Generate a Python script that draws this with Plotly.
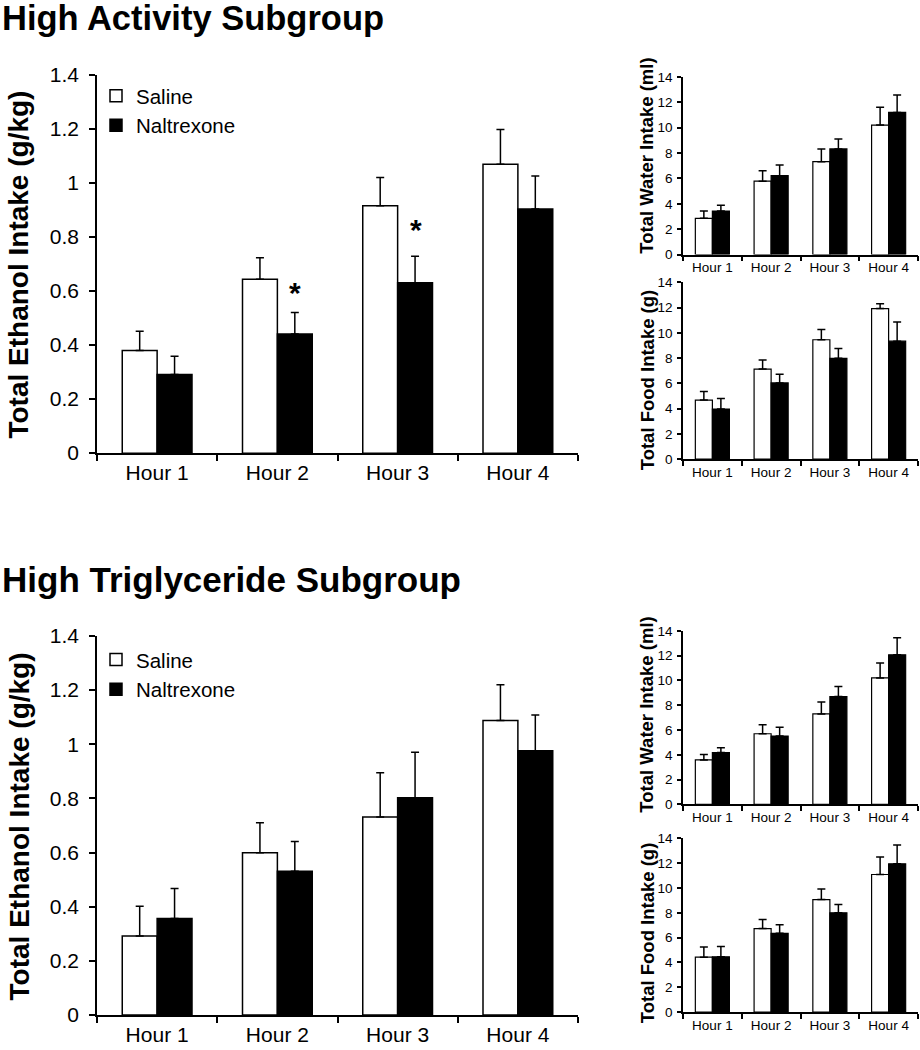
import plotly.graph_objects as go

hours = ["Hour 1", "Hour 2", "Hour 3", "Hour 4"]

# High Activity subgroup - ethanol (g/kg)
ha_eth_sal = [0.38, 0.644, 0.916, 1.069]
ha_eth_sal_err = [0.071, 0.079, 0.104, 0.129]
ha_eth_nal = [0.291, 0.441, 0.631, 0.904]
ha_eth_nal_err = [0.068, 0.080, 0.098, 0.122]
ha_star_hours = ["Hour 2", "Hour 3"]
ha_star_y = [0.595, 0.828]

# High Activity - water (ml) and food (g)
ha_wat_sal = [2.85, 5.78, 7.32, 10.2]
ha_wat_sal_err = [0.58, 0.82, 1.0, 1.4]
ha_wat_nal = [3.43, 6.21, 8.32, 11.2]
ha_wat_nal_err = [0.45, 0.84, 0.79, 1.37]
ha_food_sal = [4.68, 7.14, 9.46, 11.93]
ha_food_sal_err = [0.68, 0.71, 0.81, 0.39]
ha_food_nal = [3.97, 6.04, 7.99, 9.35]
ha_food_nal_err = [0.84, 0.68, 0.78, 1.52]

# High Triglyceride subgroup - ethanol (g/kg)
ht_eth_sal = [0.292, 0.599, 0.731, 1.087]
ht_eth_sal_err = [0.110, 0.111, 0.163, 0.132]
ht_eth_nal = [0.356, 0.531, 0.802, 0.976]
ht_eth_nal_err = [0.111, 0.110, 0.168, 0.132]

# High Triglyceride - water and food
ht_wat_sal = [3.59, 5.7, 7.3, 10.2]
ht_wat_sal_err = [0.43, 0.72, 0.96, 1.2]
ht_wat_nal = [4.18, 5.52, 8.7, 12.07]
ht_wat_nal_err = [0.4, 0.7, 0.8, 1.37]
ht_food_sal = [4.42, 6.73, 9.07, 11.09]
ht_food_sal_err = [0.83, 0.73, 0.84, 1.4]
ht_food_nal = [4.45, 6.35, 8.0, 11.95]
ht_food_nal_err = [0.83, 0.68, 0.67, 1.51]

FONT = "Liberation Sans, Arial, sans-serif"
W, H = 920, 1050


def px_x(p):
    return p / W


def px_y(p):
    p = (p - 12) / 0.98
    return 1 - p / H


fig = go.Figure()


def add_pair(sal, sal_err, nal, nal_err, xa, ya, legend=None, lw=1.5):
    show = legend is not None
    kw = dict(legend=legend) if show else {}
    fig.add_trace(go.Bar(
        x=hours, y=sal, name="Saline", xaxis=xa, yaxis=ya,
        marker=dict(color="white", line=dict(color="black", width=lw)),
        error_y=dict(type="data", array=sal_err, arrayminus=[0] * 4, symmetric=False,
                     color="black", thickness=1.5, width=4),
        showlegend=show, **kw))
    fig.add_trace(go.Bar(
        x=hours, y=nal, name="Naltrexone", xaxis=xa, yaxis=ya,
        marker=dict(color="black", line=dict(color="black", width=lw)),
        error_y=dict(type="data", array=nal_err, arrayminus=[0] * 4, symmetric=False,
                     color="black", thickness=1.5, width=4),
        showlegend=show, **kw))


add_pair(ha_eth_sal, ha_eth_sal_err, ha_eth_nal, ha_eth_nal_err, "x", "y", legend="legend")
add_pair(ht_eth_sal, ht_eth_sal_err, ht_eth_nal, ht_eth_nal_err, "x2", "y2", legend="legend2")
add_pair(ha_wat_sal, ha_wat_sal_err, ha_wat_nal, ha_wat_nal_err, "x3", "y3", lw=1.2)
add_pair(ha_food_sal, ha_food_sal_err, ha_food_nal, ha_food_nal_err, "x4", "y4", lw=1.2)
add_pair(ht_wat_sal, ht_wat_sal_err, ht_wat_nal, ht_wat_nal_err, "x5", "y5", lw=1.2)
add_pair(ht_food_sal, ht_food_sal_err, ht_food_nal, ht_food_nal_err, "x6", "y6", lw=1.2)

# panel geometry (pixels)
main_x = (97, 578)
small_x = (683, 918)
panels = {
    "": (main_x, (75, 454), 1.4, 0.2, 21, 21),
    "2": (main_x, (637, 1017), 1.4, 0.2, 21, 21),
    "3": (small_x, (77, 255), 14, 2, 13.5, 13.5),
    "4": (small_x, (283, 460), 14, 2, 13.5, 13.5),
    "5": (small_x, (632, 806), 14, 2, 13.5, 13.5),
    "6": (small_x, (840, 1014), 14, 2, 13.5, 13.5),
}

layout = dict(
    width=W, height=H, margin=dict(l=0, r=0, t=0, b=0),
    paper_bgcolor="white", plot_bgcolor="white",
    barmode="group", bargap=0.42, bargroupgap=0,
    font=dict(family=FONT, color="black"),
)
for k, (xp, yp, ymax, dt, tfs, xfs) in panels.items():
    ax_x = "xaxis" + k
    ax_y = "yaxis" + k
    main = k in ("", "2")
    layout[ax_x] = dict(
        domain=[px_x(xp[0]), px_x(xp[1])], anchor="y" + k, type="category",
        showline=True, linecolor="black", linewidth=1.5, ticks="outside",
        tickson="boundaries", ticklen=6 if main else 5, tickwidth=1.5,
        tickcolor="black", showgrid=False, zeroline=False,
        tickfont=dict(size=xfs, family=FONT, color="black"),
    )
    layout[ax_y] = dict(
        domain=[px_y(yp[1]), px_y(yp[0])], anchor="x" + k, range=[0, ymax],
        dtick=dt, tick0=0, showline=True, linecolor="black", linewidth=1.5,
        ticks="outside", ticklen=6 if main else 4, tickwidth=1.5,
        ticklabelstandoff=6 if main else 2,
        tickcolor="black", showgrid=False, zeroline=False,
        tickfont=dict(size=tfs, family=FONT, color="black"),
    )

layout["legend"] = dict(x=px_x(96), y=px_y(76), xanchor="left", yanchor="top",
                        font=dict(size=20.5, family=FONT), tracegroupgap=0,
                        bgcolor="rgba(0,0,0,0)", itemwidth=30)
layout["legend2"] = dict(x=px_x(96), y=px_y(641), xanchor="left", yanchor="top",
                         font=dict(size=20.5, family=FONT), tracegroupgap=0,
                         bgcolor="rgba(0,0,0,0)", itemwidth=30)

fig.update_layout(**layout)

anns = []
anns.append(dict(text="<b>High Activity Subgroup</b>", x=0, y=px_y(18), xref="paper", yref="paper",
                 xanchor="left", yanchor="middle", showarrow=False, font=dict(size=34.5, family=FONT)))
anns.append(dict(text="<b>High Triglyceride Subgroup</b>", x=0, y=px_y(581), xref="paper", yref="paper",
                 xanchor="left", yanchor="middle", showarrow=False, font=dict(size=35, family=FONT)))
for yc in (265, 828):
    anns.append(dict(text="<b>Total Ethanol Intake (g/kg)</b>", x=px_x(19), y=px_y(yc), xref="paper",
                     yref="paper", xanchor="center", yanchor="middle", textangle=-90, showarrow=False,
                     font=dict(size=28, family=FONT)))
for yc in (156, 716):
    anns.append(dict(text="<b>Total Water Intake (ml)</b>", x=px_x(647), y=px_y(yc), xref="paper",
                     yref="paper", xanchor="center", yanchor="middle", textangle=-90, showarrow=False,
                     font=dict(size=18.5, family=FONT)))
for yc in (381, 935):
    anns.append(dict(text="<b>Total Food Intake (g)</b>", x=px_x(647), y=px_y(yc), xref="paper",
                     yref="paper", xanchor="center", yanchor="middle", textangle=-90, showarrow=False,
                     font=dict(size=18.5, family=FONT)))
for hx, sy in zip(ha_star_hours, ha_star_y):
    anns.append(dict(text="<b>*</b>", x=hx, y=sy, xref="x", yref="y", xshift=18,
                     xanchor="center", yanchor="middle", showarrow=False,
                     font=dict(size=30, family=FONT)))
fig.update_layout(annotations=anns)

fig.write_html(
    "out.html",
    config={"displayModeBar": False},
    post_script="document.body.style.margin='0';document.body.style.padding='0';"
                "document.documentElement.style.overflow='hidden';",
)
